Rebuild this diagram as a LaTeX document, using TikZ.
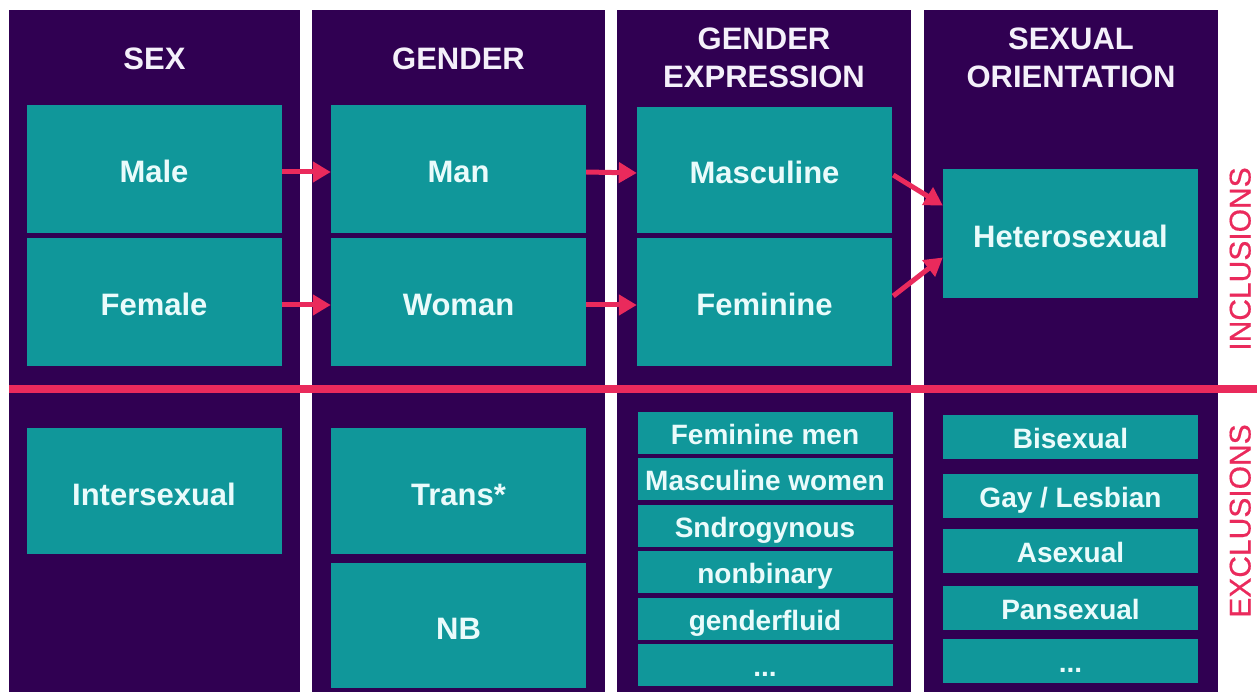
\documentclass[tikz,border=0pt]{standalone}
\usepackage{fontspec}
\setmainfont{Liberation Sans}
\usetikzlibrary{arrows.meta}
\definecolor{bgpurple}{HTML}{300052}
\definecolor{boxteal}{HTML}{10979A}
\definecolor{accent}{HTML}{EA2A5C}
\definecolor{txt}{HTML}{EAFBFB}
\definecolor{hdrtxt}{HTML}{F4F0FA}
\begin{document}
\begin{tikzpicture}[x=1pt,y=-1pt,
  colbg/.style={fill=bgpurple},
  hdr/.style={text=hdrtxt, font=\fontsize{31}{38}\selectfont\bfseries, inner sep=0pt, text height=22pt, text depth=0pt},
  hdrtwo/.style={text=hdrtxt, font=\fontsize{31}{38}\selectfont\bfseries, inner sep=0pt, align=center},
  bigbox/.style={fill=boxteal, minimum width=255pt, inner sep=0pt, text=txt, font=\fontsize{31}{36}\selectfont\bfseries, text height=28pt, text depth=0pt},
  listbox/.style={fill=boxteal, minimum width=255pt, inner sep=0pt, text=txt, font=\fontsize{28}{32}\selectfont\bfseries, text height=23pt, text depth=0pt},
  arr/.style={draw=accent, line width=5pt, -{Triangle[length=18pt,width=20pt]}},
  side/.style={text=accent, font=\fontsize{30}{36}\selectfont\addfontfeature{FakeBold=0.5}, rotate=90, inner sep=0pt, text height=21pt, text depth=0pt}
]
\useasboundingbox (0,0) rectangle (1257,692);
\fill[white] (0,0) rectangle (1257,692);
% column backgrounds
\fill[colbg] (9,10) rectangle (300,692);
\fill[colbg] (312,10) rectangle (605,692);
\fill[colbg] (617,10) rectangle (911,692);
\fill[colbg] (924,10) rectangle (1218,692);
% divider line
\fill[accent] (9,385) rectangle (1257,393);
% headers
\node[hdr] (hsex) at (154.5,59) {SEX};
\node[hdr] (hgen) at (458.5,59) {GENDER};
\node[hdrtwo] (hexp) at (764,57.5) {GENDER\\EXPRESSION};
\node[hdrtwo] (hori) at (1071,57.5) {SEXUAL\\ORIENTATION};
% inclusions
\node[bigbox, minimum height=128pt] (male) at (154,169) {Male};
\node[bigbox, minimum height=128pt] (female) at (154,302) {Female};
\node[bigbox, minimum height=128pt] (man) at (458.5,169) {Man};
\node[bigbox, minimum height=128pt] (woman) at (458.5,302) {Woman};
\node[bigbox, minimum height=126pt] (masc) at (764.5,170) {Masculine};
\node[bigbox, minimum height=128pt] (fem) at (764.5,302) {Feminine};
\node[bigbox, minimum height=129pt] (het) at (1070.5,233.5) {Heterosexual};
% exclusions
\node[bigbox, minimum height=126pt] (inter) at (154,491) {Intersexual};
\node[bigbox, minimum height=126pt] (trans) at (458.5,491) {Trans*};
\node[bigbox, minimum height=125pt] (nb) at (458.5,625.5) {NB};
\node[listbox, minimum height=42pt] (e1) at (765,432.5) {Feminine men};
\node[listbox, minimum height=42pt] (e2) at (765,479) {Masculine women};
\node[listbox, minimum height=42pt] (e3) at (765,525.5) {Sndrogynous};
\node[listbox, minimum height=42pt] (e4) at (765,572) {nonbinary};
\node[listbox, minimum height=42pt] (e5) at (765,618.5) {genderfluid};
\node[listbox, minimum height=42pt] (e6) at (765,665) {...};
\node[listbox, minimum height=44pt] (o1) at (1070.5,437) {Bisexual};
\node[listbox, minimum height=44pt] (o2) at (1070.5,495.5) {Gay / Lesbian};
\node[listbox, minimum height=44pt] (o3) at (1070.5,551) {Asexual};
\node[listbox, minimum height=44pt] (o4) at (1070.5,607.5) {Pansexual};
\node[listbox, minimum height=44pt] (o5) at (1070.5,661) {...};
% arrows
\draw[arr] ([yshift=-3pt]male.east) -- ([yshift=-3pt]man.west);
\draw[arr] ([yshift=-3pt]female.east) -- ([yshift=-3pt]woman.west);
\draw[arr] ([yshift=-3pt]man.east) -- ([yshift=-3pt]masc.west);
\draw[arr] ([yshift=-3pt]woman.east) -- ([yshift=-3pt]fem.west);
\draw[arr] ([xshift=1pt,yshift=-5pt]masc.east) -- ([yshift=28pt]het.west);
\draw[arr] ([xshift=1pt,yshift=6pt]fem.east) -- ([yshift=-24pt]het.west);
% side labels
\node[side] (incl) at (1240,259) {INCLUSIONS};
\node[side] (excl) at (1240,521) {EXCLUSIONS};
\end{tikzpicture}
\end{document}
